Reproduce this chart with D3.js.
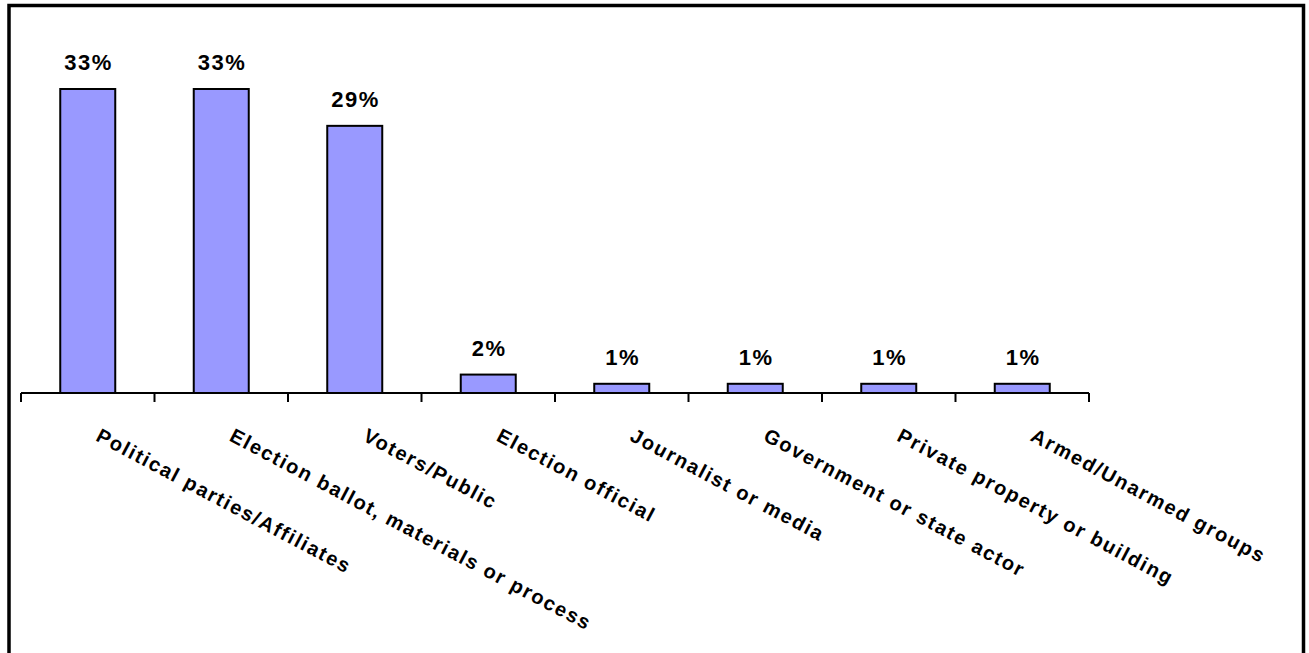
<!DOCTYPE html>
<html>
<head>
<meta charset="utf-8">
<script src="https://cdn.jsdelivr.net/npm/d3@7"></script>
<style>
  body { margin: 0; background: #fff; }
  text { font-family: "Liberation Sans", Arial, sans-serif; font-weight: bold; }
</style>
</head>
<body>
<div id="chart"></div>
<script>
// Data
const categories = [
  "Political parties/Affiliates",
  "Election ballot, materials or process",
  "Voters/Public",
  "Election official",
  "Journalist or media",
  "Government or state actor",
  "Private property or building",
  "Armed/Unarmed groups"
];
const values = [33, 33, 29, 2, 1, 1, 1, 1];
const valueLabels = ["33%", "33%", "29%", "2%", "1%", "1%", "1%", "1%"];

// SVG dimensions
const svgWidth = 1309;
const svgHeight = 653;

const svg = d3.select("#chart")
  .append("svg")
  .attr("width", svgWidth)
  .attr("height", svgHeight);

// outer frame (bottom edge runs off the picture)
svg.append("rect")
  .attr("x", 9)
  .attr("y", 5.5)
  .attr("width", 1294.5)
  .attr("height", 720)
  .attr("fill", "#fff")
  .attr("stroke", "#000")
  .attr("stroke-width", 3.5);

// Scales
const x = d3.scaleBand()
  .domain(categories)
  .range([21, 1089])
  .paddingInner(0.588)
  .paddingOuter(0.294);

const baseY = 393;
const y = d3.scaleLinear()
  .domain([0, 33])
  .range([baseY, 89]);

const step = x.step();
const bandStart = c => x(c) - step * x.paddingOuter(); // left edge of the category slot

// Bars
svg.selectAll("rect.bar")
  .data(values)
  .enter()
  .append("rect")
  .attr("class", "bar")
  .attr("x", (d, i) => x(categories[i]))
  .attr("y", d => y(d))
  .attr("width", x.bandwidth())
  .attr("height", d => baseY - y(d))
  .attr("fill", "#9999ff")
  .attr("stroke", "#000")
  .attr("stroke-width", 2);

// Value labels
svg.selectAll("text.val")
  .data(values)
  .enter()
  .append("text")
  .attr("class", "val")
  .attr("x", (d, i) => x(categories[i]) + x.bandwidth() / 2 + 0.8)
  .attr("y", d => y(d) - 19)
  .attr("text-anchor", "middle")
  .attr("font-size", 22)
  .attr("letter-spacing", 1.5)
  .text((d, i) => valueLabels[i]);

// X axis line + ticks between categories
svg.append("line")
  .attr("x1", 21).attr("x2", 1089)
  .attr("y1", baseY).attr("y2", baseY)
  .attr("stroke", "#000")
  .attr("stroke-width", 2);

const tickXs = categories.map(bandStart).concat([bandStart(categories[categories.length - 1]) + step]);
svg.selectAll("line.tick")
  .data(tickXs)
  .enter()
  .append("line")
  .attr("class", "tick")
  .attr("x1", d => d).attr("x2", d => d)
  .attr("y1", baseY).attr("y2", baseY + 9)
  .attr("stroke", "#000")
  .attr("stroke-width", 2);

// Rotated category labels
svg.selectAll("text.cat")
  .data(categories)
  .enter()
  .append("text")
  .attr("class", "cat")
  .attr("transform", d => `translate(${x(d) + x.bandwidth() / 2 + 7},440) rotate(28)`)
  .attr("font-size", 20)
  .attr("letter-spacing", 1.7)
  .text(d => d);
</script>
</body>
</html>
